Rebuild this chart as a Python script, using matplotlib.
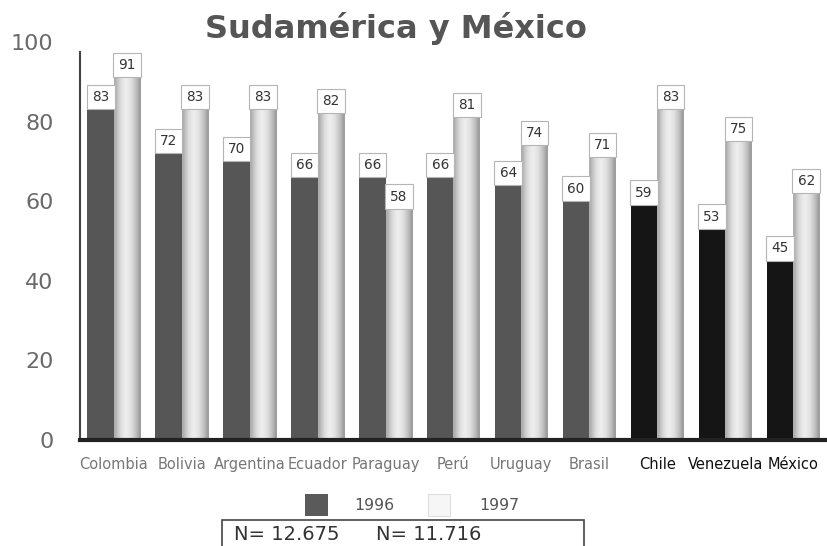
import numpy as np
import matplotlib
matplotlib.use('Agg')
from matplotlib import pyplot as plt
from matplotlib.patches import Rectangle

plt.rcParams['font.family'] = ['DejaVu Sans']

countries = ['Colombia', 'Bolivia', 'Argentina', 'Ecuador', 'Paraguay', 'Perú',
             'Uruguay', 'Brasil', 'Chile', 'Venezuela', 'México']
values_1996 = [83, 72, 70, 66, 66, 66, 64, 60, 59, 53, 45]
values_1997 = [91, 83, 83, 82, 58, 81, 74, 71, 83, 75, 62]
sudamerica_count = 8
n_labels = ['N= 12.675', 'N= 11.716']

W, H = 827, 546
fig = plt.figure(figsize=(W / 100, H / 100), dpi=100)
ax = fig.add_axes([80 / W, 1 - 440 / H, 747 / W, 398 / H])

x = np.arange(len(countries))
w = 0.39
dark_colors = ['#565656'] * sudamerica_count + ['#151515'] * (len(countries) - sudamerica_count)

ax.bar(x - w / 2, values_1996, width=w, color=dark_colors, edgecolor='none', zorder=2)

# light bars, shaded like a cylinder
shade = np.array([[0.68, 0.78, 0.86, 0.91, 0.93, 0.91, 0.87, 0.80, 0.72, 0.62]])
for i, v in enumerate(values_1997):
    ax.imshow(shade, cmap='gray', vmin=0, vmax=1, aspect='auto', interpolation='bilinear',
              extent=[x[i], x[i] + w, 0, v], zorder=2)

box = dict(boxstyle='square,pad=0.38', facecolor='white', edgecolor='#b5b5b5', linewidth=0.8)
for i in range(len(countries)):
    ax.annotate(str(values_1996[i]), (x[i] - w / 2, values_1996[i]), xytext=(0, 4),
                textcoords='offset points', ha='center', va='bottom', fontsize=9.8,
                color='#333333', bbox=box, zorder=3)
    ax.annotate(str(values_1997[i]), (x[i] + w / 2, values_1997[i]), xytext=(0, 4),
                textcoords='offset points', ha='center', va='bottom', fontsize=9.8,
                color='#333333', bbox=box, zorder=4)

ax.set_xlim(-0.5, len(countries) - 0.5)
ax.set_ylim(0, 100)
ax.set_yticks([0, 20, 40, 60, 80, 100])
ax.tick_params(axis='y', length=0, pad=19, labelsize=16, labelcolor='#6a6a6a')
ax.set_xticks(x)
ax.set_xticklabels(countries, fontsize=10.5)
ax.tick_params(axis='x', length=0, pad=12)
for i, lbl in enumerate(ax.get_xticklabels()):
    lbl.set_color('#777777' if i < sudamerica_count else '#111111')

for s in ['top', 'right']:
    ax.spines[s].set_visible(False)
ax.spines['left'].set_color('#444444')
ax.spines['left'].set_linewidth(1.5)
ax.spines['left'].set_bounds(0, 97.5)
ax.spines['bottom'].set_color('#222222')
ax.spines['bottom'].set_linewidth(3)
ax.set_facecolor('none')

fig.text(396 / W, 1 - 38 / H, 'Sudamérica y México', ha='center', va='baseline',
         fontsize=23, fontweight='bold', color='#555555')

# legend
fig.patches.append(Rectangle((305 / W, 1 - 516 / H), 23 / W, 22 / H, transform=fig.transFigure,
                             facecolor='#5a5a5a', edgecolor='none'))
fig.text(354 / W, 1 - 506 / H, '1996', ha='left', va='center', fontsize=11.3, color='#555555')
fig.patches.append(Rectangle((428 / W, 1 - 516 / H), 22 / W, 22 / H, transform=fig.transFigure,
                             facecolor='#f6f6f6', edgecolor='#dddddd', linewidth=0.8))
fig.text(479 / W, 1 - 506 / H, '1997', ha='left', va='center', fontsize=11.3, color='#555555')

fig.patches.append(Rectangle((222 / W, -0.02), 362 / W, 1 - 520 / H + 0.02,
                             transform=fig.transFigure, facecolor='white',
                             edgecolor='#444444', linewidth=1.2))
fig.text(234 / W, 1 - 535 / H, n_labels[0], ha='left', va='center', fontsize=14, color='#333333')
fig.text(376 / W, 1 - 535 / H, n_labels[1], ha='left', va='center', fontsize=14, color='#333333')

fig.savefig('out.png', dpi=100)
